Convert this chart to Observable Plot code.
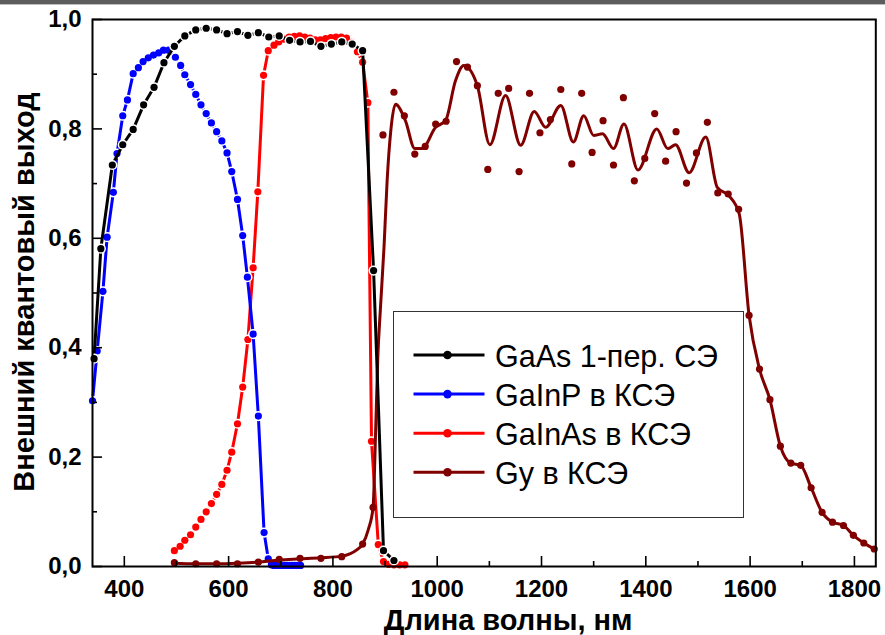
<!DOCTYPE html>
<html>
<head>
<meta charset="utf-8">
<script src="https://cdn.jsdelivr.net/npm/d3@7"></script>
<script src="https://cdn.jsdelivr.net/npm/@observablehq/plot@0.6"></script>
<style>
  body { margin: 0; background: white; }
  #wrap { position: relative; width: 885px; height: 635px; overflow: hidden; font-family: "Liberation Sans", Arial, sans-serif; }
  #topbar { position: absolute; left: 0; top: 0; width: 885px; height: 4px; background: #5d5d5d; border-bottom: 1px solid #bdbdbd; }
  #legend { position: absolute; left: 393px; top: 311px; width: 351px; height: 207px; box-sizing: border-box; border: 1.3px solid #333; background: white; }
</style>
</head>
<body>
<div id="wrap">
  <div id="chart"></div>
  <div id="topbar"></div>
  <div id="legend"></div>
</div>
<script>
// ---- data ----
const seriesNames = ["GaAs 1-пер. СЭ", "GaInP в КСЭ", "GaInAs в КСЭ", "Gy в КСЭ"];
const seriesColors = ["#000000", "#0000ff", "#ff0000", "#800000"];

const gaasX = [342, 355, 377, 397, 417, 437, 457, 476, 496, 516, 537, 557, 577, 597, 617, 637, 657, 677, 697, 717, 737, 757, 777, 797, 817, 837, 857, 878, 897, 917];
const gaasY = [0.38, 0.581, 0.734, 0.771, 0.799, 0.844, 0.876, 0.921, 0.951, 0.970, 0.981, 0.984, 0.981, 0.974, 0.978, 0.971, 0.976, 0.968, 0.970, 0.962, 0.959, 0.960, 0.951, 0.955, 0.959, 0.955, 0.943, 0.541, 0.029, 0.011];

const gainpX = [339, 348, 359, 367, 379, 386, 397, 406, 417, 427, 436, 446, 456, 466, 475, 485, 498, 508, 516, 527, 537, 547, 557, 567, 577, 587, 597, 606, 617, 627, 636, 647, 657, 668, 676, 682, 687, 692, 697, 702, 707, 712, 717, 722, 727, 732, 738];
const gainpY = [0.303, 0.394, 0.503, 0.602, 0.684, 0.755, 0.824, 0.853, 0.901, 0.912, 0.923, 0.930, 0.935, 0.939, 0.944, 0.944, 0.931, 0.916, 0.899, 0.881, 0.863, 0.844, 0.828, 0.811, 0.795, 0.778, 0.756, 0.722, 0.671, 0.605, 0.529, 0.425, 0.275, 0.062, 0.014, 0.003, 0.002, 0.002, 0.002, 0.002, 0.002, 0.002, 0.002, 0.002, 0.002, 0.002, 0.002];

const gainasX = [496, 507, 516, 527, 537, 547, 557, 567, 577, 587, 597, 606, 617, 627, 637, 647, 656, 667, 676, 687, 696, 706, 716, 726, 736, 746, 756, 766, 776, 786, 796, 806, 816, 826, 836, 847, 857, 867, 874, 887, 897, 907, 917, 928, 938];
const gainasY = [0.029, 0.037, 0.048, 0.058, 0.072, 0.086, 0.100, 0.115, 0.132, 0.150, 0.176, 0.209, 0.261, 0.328, 0.415, 0.546, 0.685, 0.898, 0.943, 0.953, 0.959, 0.964, 0.968, 0.969, 0.970, 0.968, 0.966, 0.963, 0.963, 0.965, 0.967, 0.968, 0.968, 0.966, 0.958, 0.941, 0.922, 0.848, 0.229, 0.040, 0.009, 0.004, 0.003, 0.003, 0.003];

// Gy measured points
const gyX = [496, 537, 577, 617, 657, 697, 737, 777, 817, 857, 877, 896, 917, 937, 957, 977, 997, 1017, 1037, 1058, 1077, 1097, 1117, 1137, 1157, 1177, 1197, 1217, 1237, 1258, 1277, 1297, 1318, 1338, 1357, 1378, 1398, 1417, 1438, 1458, 1478, 1497, 1518, 1538, 1558, 1578, 1598, 1618, 1638, 1658, 1678, 1697, 1717, 1738, 1758, 1779, 1798, 1818, 1838];
const gyY = [0.007, 0.005, 0.005, 0.005, 0.008, 0.013, 0.015, 0.015, 0.018, 0.041, 0.108, 0.789, 0.867, 0.824, 0.754, 0.768, 0.809, 0.814, 0.923, 0.913, 0.879, 0.726, 0.865, 0.874, 0.722, 0.865, 0.793, 0.817, 0.872, 0.736, 0.865, 0.757, 0.815, 0.734, 0.857, 0.705, 0.746, 0.828, 0.741, 0.795, 0.701, 0.756, 0.812, 0.683, 0.681, 0.653, 0.459, 0.361, 0.305, 0.220, 0.189, 0.185, 0.144, 0.099, 0.081, 0.075, 0.057, 0.043, 0.032];

// Gy smoothed curve
const gyFitX = [496, 537, 577, 617, 657, 697, 737, 777, 817, 845, 857, 868, 877, 882, 886, 891, 898, 904, 911, 920, 939, 957, 971, 997, 1016, 1035, 1051, 1077, 1101, 1131, 1160, 1186, 1208, 1237, 1261, 1281, 1300, 1317, 1338, 1358, 1385, 1421, 1442, 1457, 1483, 1515, 1537, 1559, 1579, 1598, 1618, 1638, 1658, 1678, 1697, 1717, 1738, 1758, 1779, 1798, 1818, 1840];
const gyFitY = [0.006, 0.005, 0.005, 0.006, 0.008, 0.012, 0.014, 0.016, 0.019, 0.03, 0.041, 0.068, 0.108, 0.25, 0.38, 0.47, 0.584, 0.706, 0.797, 0.845, 0.815, 0.764, 0.764, 0.803, 0.815, 0.888, 0.916, 0.879, 0.771, 0.861, 0.770, 0.832, 0.803, 0.843, 0.776, 0.824, 0.788, 0.791, 0.764, 0.809, 0.725, 0.800, 0.764, 0.771, 0.720, 0.785, 0.693, 0.678, 0.645, 0.459, 0.361, 0.305, 0.220, 0.189, 0.185, 0.144, 0.099, 0.081, 0.075, 0.057, 0.043, 0.031];

const xTicks = [400, 600, 800, 1000, 1200, 1400, 1600, 1800];
const xTickLabels = ["400", "600", "800", "1000", "1200", "1400", "1600", "1800"];
const xMinor = [500, 700, 900, 1100, 1300, 1500, 1700];
const yTicks = [0, 0.2, 0.4, 0.6, 0.8, 1.0];
const yTickLabels = ["0,0", "0,2", "0,4", "0,6", "0,8", "1,0"];
const yMinor = [0.1, 0.3, 0.5, 0.7, 0.9];
const xTitle = "Длина волны, нм";
const yTitle = "Внешний квантовый выход";

// ---- build ----
const zip = (xs, ys) => xs.map((x, i) => ({x, y: ys[i]}));
const gaas = zip(gaasX, gaasY);
const gainp = zip(gainpX, gainpY);
const gainas = zip(gainasX, gainasY);
const gy = zip(gyX, gyY);
const gyFit = zip(gyFitX, gyFitY);

const W = 885, H = 635, mL = 92, mR = 9.7, mT = 19, mB = 69;
const plotH = H - mT - mB, plotW = W - mL - mR;
const R = 3.6, HALO = 5.1, LW = 3;

function series(data, color, curve) {
  return [
    Plot.line(data, {x: "x", y: "y", stroke: color, strokeWidth: LW, curve: curve || "linear"}),
  ];
}
function dots(data, color) {
  return [
    Plot.dot(data, {x: "x", y: "y", r: HALO, fill: "white", stroke: "none"}),
    Plot.dot(data, {x: "x", y: "y", r: R, fill: color, stroke: "none"})
  ];
}

const chart = Plot.plot({
  width: W, height: H,
  marginLeft: mL, marginRight: mR, marginTop: mT, marginBottom: mB,
  style: {fontFamily: "'Liberation Sans', Arial, sans-serif", background: "white", color: "black"},
  x: {domain: [339, 1841]},
  y: {domain: [0, 1]},
  marks: [
    // red
    ...series(gainas, seriesColors[2]),
    ...dots(gainas, seriesColors[2]),
    // blue
    ...series(gainp, seriesColors[1]),
    ...dots(gainp, seriesColors[1]),
    // Gy
    ...series(gyFit, seriesColors[3], "monotone-x"),
    Plot.dot(gy, {x: "x", y: "y", r: R, fill: seriesColors[3], stroke: "none"}),
    // black
    ...series(gaas, seriesColors[0]),
    ...dots(gaas, seriesColors[0]),
    // ticks (inward)
    Plot.ruleX(xTicks, {insetTop: plotH - 10, stroke: "black", strokeWidth: 1.6}),
    Plot.ruleX(xMinor, {insetTop: plotH - 5, stroke: "black", strokeWidth: 1.6}),
    Plot.ruleY(yTicks, {insetRight: plotW - 10, stroke: "black", strokeWidth: 1.6}),
    Plot.ruleY(yMinor, {insetRight: plotW - 5, stroke: "black", strokeWidth: 1.6}),
    Plot.frame({stroke: "black", strokeWidth: 2}),
    Plot.axisX({ticks: xTicks, tickSize: 0, tickPadding: 13, tickFormat: d => xTickLabels[xTicks.indexOf(d)], fontSize: 24, fontWeight: "bold", label: null}),
    Plot.axisY({ticks: yTicks, tickSize: 0, tickPadding: 11, tickFormat: d => yTickLabels[yTicks.indexOf(d)], fontSize: 24, fontWeight: "bold", label: null}),
    Plot.text([xTitle], {frameAnchor: "bottom", textAnchor: "middle", dx: 24, dy: 54, fontSize: 29, fontWeight: "bold", lineAnchor: "middle", fill: "black"}),
    Plot.text([yTitle], {frameAnchor: "left", textAnchor: "middle", dx: -68, dy: -1, rotate: -90, fontSize: 29, fontWeight: "bold", lineAnchor: "middle", fill: "black"})
  ]
});
document.getElementById("chart").appendChild(chart);

// ---- legend ----
const ns = "http://www.w3.org/2000/svg";
const lg = document.createElementNS(ns, "svg");
lg.setAttribute("width", 349);
lg.setAttribute("height", 205);
lg.style.display = "block";
seriesNames.forEach((name, i) => {
  const cy = 43 + i * 39.1;
  const ln = document.createElementNS(ns, "line");
  ln.setAttribute("x1", 19.5); ln.setAttribute("x2", 90.5);
  ln.setAttribute("y1", cy); ln.setAttribute("y2", cy);
  ln.setAttribute("stroke", seriesColors[i]); ln.setAttribute("stroke-width", 3);
  lg.appendChild(ln);
  const c = document.createElementNS(ns, "circle");
  c.setAttribute("cx", 53.5); c.setAttribute("cy", cy); c.setAttribute("r", 4.3);
  c.setAttribute("fill", seriesColors[i]);
  lg.appendChild(c);
  const t = document.createElementNS(ns, "text");
  t.setAttribute("x", 101); t.setAttribute("y", cy + 11.5);
  t.setAttribute("font-size", 30.5);
  t.setAttribute("font-family", "'Liberation Sans', Arial, sans-serif");
  t.setAttribute("fill", "black");
  t.textContent = name;
  lg.appendChild(t);
});
document.getElementById("legend").appendChild(lg);
</script>
</body>
</html>
